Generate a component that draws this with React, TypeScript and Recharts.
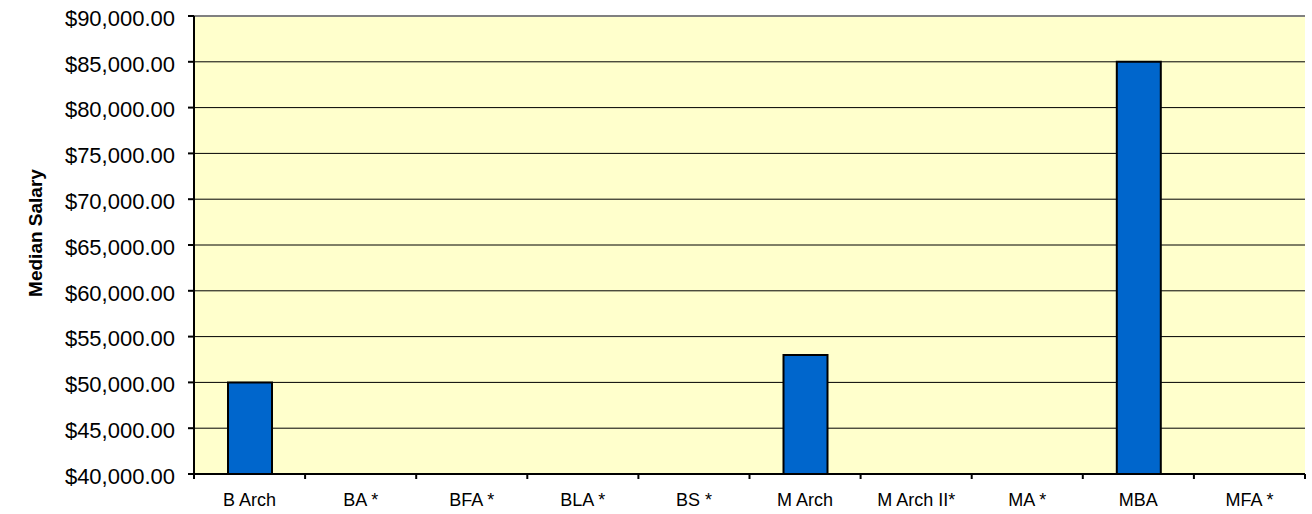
import { BarChart, Bar, XAxis, YAxis, CartesianGrid, ReferenceLine } from 'recharts';

const categories = ['B Arch', 'BA *', 'BFA *', 'BLA *', 'BS *', 'M Arch', 'M Arch II*', 'MA *', 'MBA', 'MFA *'];
const medianSalary = [50000, null, null, null, null, 53000, null, null, 85000, null];
const salaryTicks = [40000, 45000, 50000, 55000, 60000, 65000, 70000, 75000, 80000, 85000, 90000];

const data = categories.map((name, i) => ({ name, salary: medianSalary[i] }));

const FONT = '"Liberation Sans", Arial, sans-serif';
const X_TICK_GAP = 19; // tickSize + tickMargin of the category axis

const money = (v: number) =>
    '$' + v.toLocaleString('en-US', { minimumFractionDigits: 2, maximumFractionDigits: 2 });

const SalaryTick = ({ x, y, payload }: any) => (
    <text x={x} y={y + 2} dy="0.355em" textAnchor="end" fontSize={22} fontFamily={FONT} fill="#000">
        {money(payload.value)}
    </text>
);

// Excel-style category axis: tick marks sit between the categories
const CategoryTick = ({ x, y, payload, index, visibleTicksCount }: any) => {
    const axisY = y - X_TICK_GAP;
    const half = payload.offset || 0;
    return (
        <g>
            <line x1={x - half} x2={x - half} y1={axisY} y2={axisY + 5} stroke="#000" strokeWidth={2} />
            {index === visibleTicksCount - 1 && (
                <line x1={x + half} x2={x + half} y1={axisY} y2={axisY + 5} stroke="#000" strokeWidth={2} />
            )}
            <text x={x} y={y} dy="0.71em" textAnchor="middle" fontSize={18} fontFamily={FONT} fill="#000">
                {payload.value}
            </text>
        </g>
    );
};

const AxisTitle = ({ viewBox }: any) => {
    const bx = 42;
    const cy = viewBox.y + viewBox.height / 2 - 12;
    return (
        <text
            x={bx}
            y={cy}
            transform={`rotate(-90 ${bx} ${cy})`}
            textAnchor="middle"
            fontSize={19}
            fontWeight="bold"
            fontFamily={FONT}
            fill="#000"
        >
            Median Salary
        </text>
    );
};

export default function App() {
    return (
        <div style={{ position: 'absolute', left: 0, top: 0, background: '#fff' }}>
            <BarChart width={1312} height={514} data={data} margin={{ top: 16, right: 7, left: 0, bottom: 0 }}>
                <CartesianGrid vertical={false} fill="#FFFFCC" stroke="#000" strokeWidth={1} fillOpacity={1} />
                <XAxis
                    dataKey="name"
                    height={40}
                    interval={0}
                    tickLine={false}
                    axisLine={{ stroke: '#000', strokeWidth: 2 }}
                    tickSize={6}
                    tickMargin={13}
                    tick={<CategoryTick />}
                />
                <YAxis
                    width={194}
                    domain={[40000, 90000]}
                    ticks={salaryTicks}
                    interval={0}
                    axisLine={{ stroke: '#000', strokeWidth: 2 }}
                    tickLine={{ stroke: '#000', strokeWidth: 2 }}
                    tickSize={6}
                    tickMargin={13}
                    tick={<SalaryTick />}
                    label={<AxisTitle />}
                />
                <YAxis
                    yAxisId="frame"
                    orientation="right"
                    width={0}
                    domain={[0, 1]}
                    tick={false}
                    tickLine={false}
                    axisLine={{ stroke: '#808080', strokeWidth: 2 }}
                />
                <ReferenceLine y={90000} stroke="#808080" strokeWidth={2} />
                <Bar
                    dataKey="salary"
                    fill="#0066CC"
                    stroke="#000"
                    strokeWidth={2}
                    barSize={44}
                    isAnimationActive={false}
                />
            </BarChart>
        </div>
    );
}
